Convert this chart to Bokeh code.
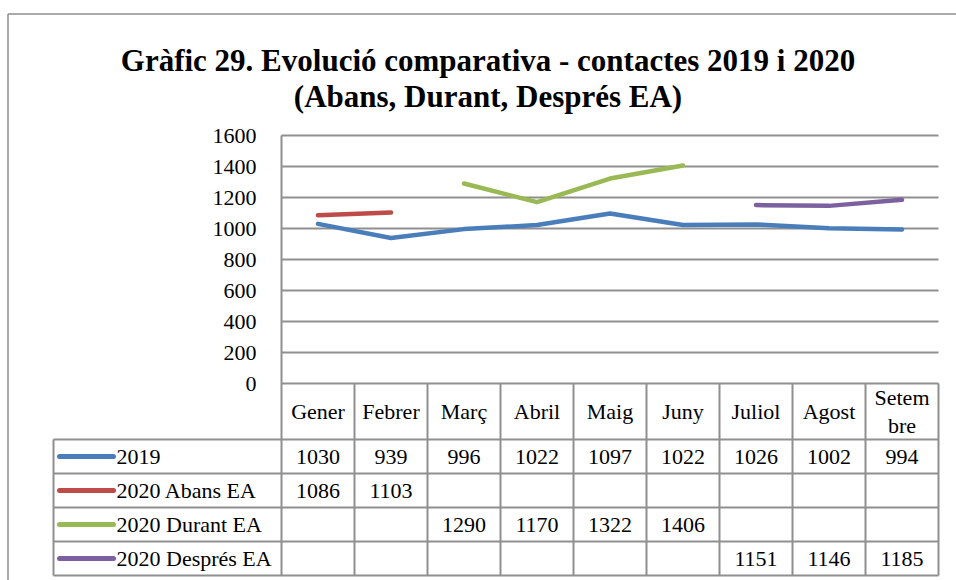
import numpy as np
from bokeh.plotting import figure
from bokeh.models import Range1d, LinearAxis, FixedTicker
from bokeh.core.properties import value
from bokeh.embed import file_html
from bokeh.resources import INLINE

# ---------------- data ----------------
title_lines = ["Gràfic 29. Evolució comparativa - contactes 2019 i 2020",
               "(Abans, Durant, Després EA)"]
months = ["Gener", "Febrer", "Març", "Abril", "Maig", "Juny", "Juliol", "Agost", "Setem\nbre"]
series_names = ["2019", "2020 Abans EA", "2020 Durant EA", "2020 Després EA"]
v_2019 = [1030, 939, 996, 1022, 1097, 1022, 1026, 1002, 994]
v_abans = [1086, 1103, None, None, None, None, None, None, None]
v_durant = [None, None, 1290, 1170, 1322, 1406, None, None, None]
v_despres = [None, None, None, None, None, None, 1151, 1146, 1185]
series_colors = ["#4A7EBB", "#BE4B48", "#98B954", "#7D60A0"]
y_ticks = [0, 200, 400, 600, 800, 1000, 1200, 1400, 1600]

series_values = [v_2019, v_abans, v_durant, v_despres]

# ---------------- layout (page pixels) ----------------
W, H = 956, 580
OX, OY = 0, 0
PLOT_L, PLOT_R, PLOT_T, PLOT_B = 281, 938, 135, 383
TABLE_L = 53
HEADER_B = 439
ROW_H = 34
TABLE_B = HEADER_B + ROW_H * len(series_names)
GRID_COLOR = "#8f8f8f"
SERIF = "Liberation Serif"
FS = "22px"

n = len(months)
COL_W = (PLOT_R - PLOT_L) / n
YMAX = y_ticks[-1]
per_px = YMAX / (PLOT_B - PLOT_T)

def col_of_px(px):
    return (px - PLOT_L) / COL_W

x_range = Range1d(col_of_px(OX), col_of_px(OX + W))
y_range = Range1d(-(OY + H - PLOT_B) * per_px, YMAX + (PLOT_T - OY) * per_px)

p = figure(width=W, height=H, x_range=x_range, y_range=y_range,
           x_axis_location=None, y_axis_location=None,
           toolbar_location=None, output_backend="svg",
           min_border=0, outline_line_color=None)
p.extra_y_ranges = {"px": Range1d(OY + H, OY)}
p.extra_x_ranges = {"px": Range1d(OX, OX + W)}
p.grid.visible = False
p.background_fill_color = "white"
p.border_fill_color = "white"

# outer chart border (top + left)
p.segment(x0=[7.5, 7.5], y0=[13.5, 13.5], x1=[OX + W, 7.5], y1=[13.5, OY + H],
          x_range_name="px", y_range_name="px", line_color="#8c8c8c", line_width=1.5)

# title
for i, t in enumerate(title_lines):
    p.text(x=[487.5], y=[60 + 36 * i], text=[t], x_range_name="px", y_range_name="px",
           text_align="center", text_baseline="alphabetic",
           text_font=value(SERIF), text_font_style="bold",
           text_font_size="31px", text_color="black")

# horizontal gridlines
p.segment(x0=[0] * len(y_ticks), x1=[n] * len(y_ticks), y0=y_ticks, y1=y_ticks,
          line_color=GRID_COLOR, line_width=2)

# y axis
yaxis = LinearAxis(fixed_location=0, ticker=FixedTicker(ticks=y_ticks),
                   axis_line_color=None, major_tick_line_color=None,
                   minor_tick_line_color=None, major_label_standoff=19,
                   major_label_text_font=SERIF, major_label_text_font_size=FS,
                   major_label_text_color="black")
p.add_layout(yaxis, "left")

# vertical lines: plot left border and table column separators
p.segment(x0=[0], x1=[0], y0=[PLOT_T], y1=[TABLE_B], y_range_name="px",
          line_color=GRID_COLOR, line_width=2)
cols = list(range(1, n + 1))
p.segment(x0=cols, x1=cols, y0=[PLOT_B] * n, y1=[TABLE_B] * n, y_range_name="px",
          line_color=GRID_COLOR, line_width=2)
# legend column left border
p.segment(x0=[TABLE_L], x1=[TABLE_L], y0=[HEADER_B], y1=[TABLE_B],
          x_range_name="px", y_range_name="px", line_color=GRID_COLOR, line_width=2)
# table row lines
row_lines = [HEADER_B + ROW_H * k for k in range(len(series_names) + 1)]
p.segment(x0=[col_of_px(TABLE_L)] * len(row_lines), x1=[n] * len(row_lines),
          y0=row_lines, y1=row_lines, y_range_name="px",
          line_color=GRID_COLOR, line_width=2)

# header labels
p.text(x=[i + 0.5 for i in range(n)], y=[(PLOT_B + HEADER_B) / 2] * n, text=months,
       y_range_name="px", text_align="center", text_baseline="middle",
       text_font=value(SERIF), text_font_size=FS, text_color="black",
       text_line_height=1.1)

# series lines, legend and table values
for k, (name, vals, col) in enumerate(zip(series_names, series_values, series_colors)):
    y = np.array([np.nan if v is None else v for v in vals], dtype=float)
    xs = np.arange(n) + 0.5
    p.line(x=xs, y=y, line_color=col, line_width=4.5, line_cap="round", line_join="round")
    yc = HEADER_B + ROW_H * k + ROW_H / 2
    p.segment(x0=[59], x1=[113], y0=[yc], y1=[yc], x_range_name="px", y_range_name="px",
              line_color=col, line_width=5, line_cap="round")
    p.text(x=[116], y=[yc], text=[name], x_range_name="px", y_range_name="px",
           text_align="left", text_baseline="middle", text_font=value(SERIF),
           text_font_size=FS, text_color="black")
    tx = [i + 0.5 for i, v in enumerate(vals) if v is not None]
    tt = [str(v) for v in vals if v is not None]
    p.text(x=tx, y=[yc] * len(tx), text=tt, y_range_name="px", text_align="center",
           text_baseline="middle", text_font=value(SERIF), text_font_size=FS,
           text_color="black")

open("out.html", "w").write(file_html(p, INLINE))
